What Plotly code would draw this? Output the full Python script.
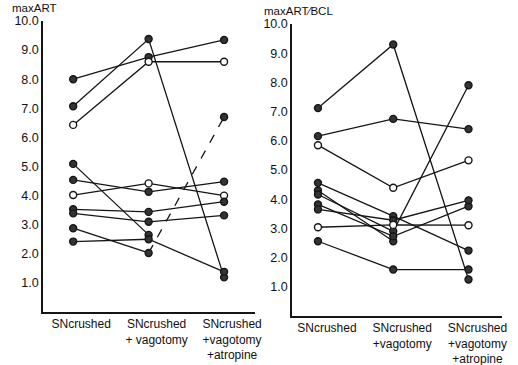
import plotly.graph_objects as go

# ---------------- data ----------------
conditions = ["SNcrushed", "SNcrushed<br>+ vagotomy", "SNcrushed<br>+vagotomy<br>+atropine"]
conditions_right = ["SNcrushed", "SNcrushed<br>+vagotomy", "SNcrushed<br>+vagotomy<br>+atropine"]
y_ticks = [1, 2, 3, 4, 5, 6, 7, 8, 9, 10]
y_tick_labels = ["1.0", "2.0", "3.0", "4.0", "5.0", "6.0", "7.0", "8.0", "9.0", "10.0"]

# left panel: maxART  (value per condition; None = not measured)
left_a = [8.0, 8.76, 9.35]
left_b = [7.07, 9.38, 1.19]
left_c_open = [6.43, 8.6, 8.6]
left_d = [5.09, 2.65, None]
left_e = [4.54, 4.13, 4.48]
left_f_open = [4.02, 4.42, 4.0]
left_g = [3.53, 3.44, 3.79]
left_h = [3.39, 3.10, 3.32]
left_i = [2.88, 2.03, 6.7]
left_j = [2.42, 2.50, 1.38]

# right panel: maxART/BCL
right_a = [7.12, 9.3, 1.25]
right_b = [6.16, 6.75, 6.4]
right_c_open = [5.85, 4.39, 5.33]
right_d = [4.56, 3.42, 2.24]
right_e = [4.30, 2.56, None]
right_f = [4.16, 2.90, 7.9]
right_g = [3.82, 2.73, 3.76]
right_h = [3.65, 3.28, 3.96]
right_i_open = [3.04, 3.12, 3.11]
right_j = [2.56, 1.59, 1.59]

left_series = [(left_a, False), (left_b, False), (left_c_open, True), (left_d, False),
               (left_e, False), (left_f_open, True), (left_g, False), (left_h, False),
               (left_j, False)]
right_series = [(right_a, False), (right_b, False), (right_c_open, True), (right_d, False),
                (right_e, False), (right_f, False), (right_g, False), (right_h, False),
                (right_i_open, True), (right_j, False)]

xs = [0, 1, 2]
FONT = "Liberation Sans, Arial, sans-serif"
LINE_C = "#151515"

fig = go.Figure()


def add_series(vals, is_open, xa, ya):
    fig.add_trace(go.Scatter(x=xs, y=vals, mode="lines", xaxis=xa, yaxis=ya,
                             line=dict(color=LINE_C, width=1.3), hoverinfo="skip",
                             showlegend=False))
    fig.add_trace(go.Scatter(x=xs, y=vals, mode="markers", xaxis=xa, yaxis=ya,
                             marker=dict(size=7, color="white" if is_open else "#333333",
                                         line=dict(color=LINE_C, width=1.4)),
                             showlegend=False))


for vals, op in left_series:
    add_series(vals, op, "x", "y")

# series i (left): solid first segment, dashed second segment
fig.add_trace(go.Scatter(x=xs[:2], y=left_i[:2], mode="lines", xaxis="x", yaxis="y",
                         line=dict(color=LINE_C, width=1.3), showlegend=False))
fig.add_trace(go.Scatter(x=xs[1:], y=left_i[1:], mode="lines", xaxis="x", yaxis="y",
                         line=dict(color=LINE_C, width=1.3, dash="dash"), showlegend=False))
fig.add_trace(go.Scatter(x=xs, y=left_i, mode="markers", xaxis="x", yaxis="y",
                         marker=dict(size=7, color="#333333", line=dict(color=LINE_C, width=1.4)),
                         showlegend=False))

for vals, op in right_series:
    add_series(vals, op, "x2", "y2")

axis_common = dict(showgrid=False, zeroline=False, showline=True, linecolor=LINE_C,
                   linewidth=1.5, ticks="", fixedrange=True, automargin=False)

fig.update_layout(
    template="none",
    width=518, height=365,
    margin=dict(l=0, r=0, t=0, b=0, pad=0),
    paper_bgcolor="white", plot_bgcolor="white",
    font=dict(family=FONT, size=12, color="#111111"),
    showlegend=False,
    xaxis=dict(domain=[43 / 518, 255 / 518], range=[-0.40, 2.41],
               tickvals=xs, ticktext=conditions, ticklabelshift=8,
               tickfont=dict(size=12), anchor="y", **axis_common),
    yaxis=dict(domain=[53 / 365, 344 / 365], range=[0, 10],
               tickvals=y_ticks, ticktext=y_tick_labels,
               tickfont=dict(size=12.5), anchor="x", **axis_common),
    xaxis2=dict(domain=[292 / 518, 502 / 518], range=[-0.345, 2.445],
                tickvals=xs, ticktext=conditions_right, ticklabelshift=9,
                tickfont=dict(size=12), anchor="y2", **axis_common),
    yaxis2=dict(domain=[49 / 365, 341 / 365], range=[0, 10],
                tickvals=y_ticks, ticktext=y_tick_labels,
                tickfont=dict(size=12.5), anchor="x2", **axis_common),
    annotations=[
        dict(text="maxART", xref="paper", yref="paper", x=10 / 518, y=(365 - 8) / 365,
             xanchor="left", yanchor="middle", showarrow=False,
             font=dict(size=11.5, family=FONT)),
        dict(text="maxART⁄BCL", xref="paper", yref="paper", x=262 / 518, y=(365 - 11) / 365,
             xanchor="left", yanchor="middle", showarrow=False,
             font=dict(size=11.5, family=FONT)),
    ],
)

fig.write_html("out.html", config={"displayModeBar": False},
               post_script="document.body.style.margin='0';document.body.style.overflow='hidden';")
